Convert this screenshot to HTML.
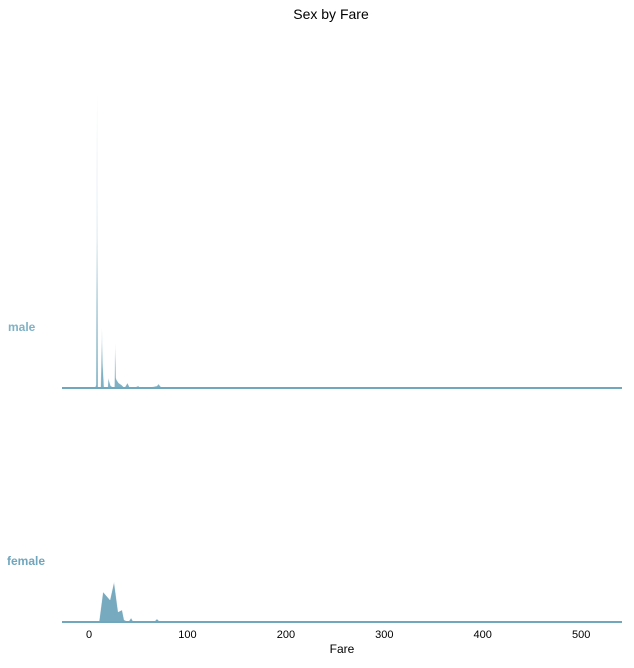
<!DOCTYPE html>
<html><head><meta charset="utf-8"><style>
body{margin:0;background:#fff;}
svg text{font-family:"Liberation Sans",Arial,sans-serif;}
</style></head><body>
<svg id="chart" width="634" height="663" viewBox="0 0 634 663" xmlns="http://www.w3.org/2000/svg">
<text x="331" y="19" text-anchor="middle" font-size="14" fill="#000">Sex by Fare</text>
<text x="8" y="331" font-size="12" font-weight="bold" fill="#7fb2c6">male</text>
<text x="7" y="565" font-size="12" font-weight="bold" fill="#6fa6bd">female</text>
<g id="ridges"></g>
<g id="xaxis"></g>
<text x="342" y="653" text-anchor="middle" font-size="12" fill="#000">Fare</text>
</svg>
<script>
const categories = ["male","female"];
const maleFare = [0,6,7.1,7.8,8.1,8.4,9.1,11.8,12.5,13.1,13.8,15.2,19,19.6,21,22,25.8,26.5,27.3,28,30,33,36,39,41,45,50,52,57,59,69,70.5,73,80,540];
const maleDensity = [0,0,3,150,296,150,0,0,28,60,25,0,0,10,5,2,0,46,10,8,5,3,0,5,1,0,2,0,1,0,2,4,1,0,0];
const femaleFare = [0,10.2,14.2,21.3,25.4,29.5,33.5,35.6,40,42.7,45,66,69,72,540];
const femaleDensity = [0,0,30,22,40,10,12,2,0,4,0,0,3,0,0];
const xTicks = [0,100,200,300,400,500];
const baselines = [388,622];
const series = [[maleFare,maleDensity],[femaleFare,femaleDensity]];
const colors = ["#7fb1c4","#77a9bf"];
const lineColors = ["#6fa8bd","#6fa8bd"];
const X0=62,X1=622,xMin=-27.5,xMax=541.5;
const xs = v => X0 + (v - xMin) * (X1 - X0) / (xMax - xMin);
const ys = (v,i) => baselines[i] - v;
const NS="http://www.w3.org/2000/svg";
const ridges=document.getElementById('ridges');
series.forEach((s,i)=>{
  const [f,d]=s;
  let pts=f.map((v,j)=>xs(v).toFixed(2)+','+ys(d[j],i).toFixed(2));
  const area=document.createElementNS(NS,'polygon');
  area.setAttribute('points',xs(f[0])+','+baselines[i]+' '+pts.join(' ')+' '+xs(f[f.length-1])+','+baselines[i]);
  area.setAttribute('fill',colors[i]);
  
  
  ridges.appendChild(area);
  const line=document.createElementNS(NS,'polyline');
  line.setAttribute('points',pts.join(' '));
  line.setAttribute('fill','none');line.setAttribute('stroke','#fff');line.setAttribute('stroke-width','0.4');line.setAttribute('stroke-opacity','0.7');
  
  
  ridges.appendChild(line);
  const base=document.createElementNS(NS,'line');
  base.setAttribute('x1',X0);base.setAttribute('x2',X1);base.setAttribute('y1',baselines[i]);base.setAttribute('y2',baselines[i]);
  base.setAttribute('stroke',lineColors[i]);base.setAttribute('stroke-width','2');
  
  
  ridges.appendChild(base);
});
const xa=document.getElementById('xaxis');
xTicks.forEach(t=>{
  const tx=document.createElementNS(NS,'text');
  tx.setAttribute('x',xs(t));tx.setAttribute('y',638);tx.setAttribute('text-anchor','middle');tx.setAttribute('font-size','11');tx.setAttribute('fill','#000');
  tx.textContent=t;
  
  
  xa.appendChild(tx);
});
</script>
</body></html>
